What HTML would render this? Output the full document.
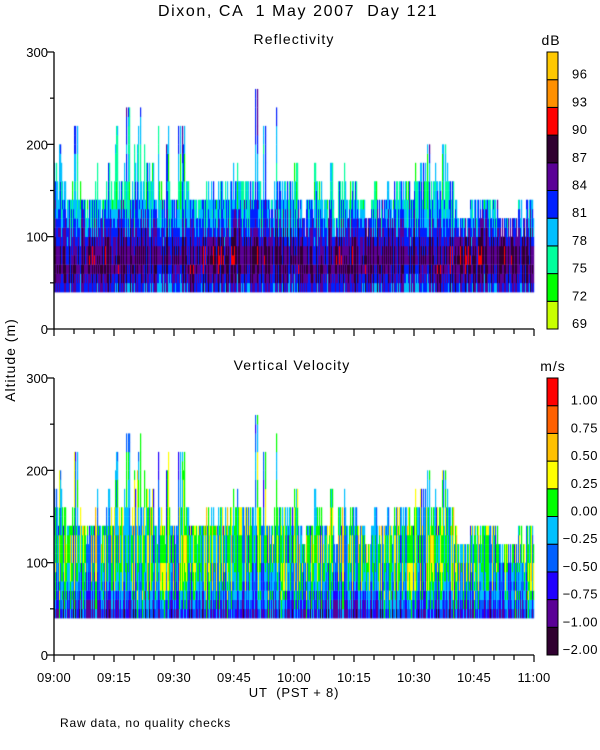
<!DOCTYPE html>
<html><head><meta charset="utf-8">
<style>
html,body{margin:0;padding:0;background:#fff;}
#wrap{position:relative;width:600px;height:750px;overflow:hidden;font-family:"Liberation Sans",sans-serif;}
canvas{position:absolute;left:0;top:0;}
svg{position:absolute;left:0;top:0;}
text{font-family:"Liberation Sans",sans-serif;fill:#000;white-space:pre;}
</style></head>
<body>
<div id="wrap">
<canvas id="cv" width="600" height="750"></canvas>
<svg id="sv" width="600" height="750"></svg>
</div>
<script>
// ---- data ----
const minutes = 120;
const tops = [200,200,160,140,160,220,160,140,140,140,180,140,160,180,160,220,160,180,240,160,
200,240,200,180,180,140,220,140,220,140,140,220,220,160,140,140,140,140,160,160,
140,160,160,160,180,180,180,160,160,160,260,160,220,140,140,240,160,160,160,160,
180,140,120,140,140,180,160,140,140,180,120,180,180,140,180,160,140,140,120,140,
160,140,140,160,140,160,160,160,160,160,180,180,180,200,160,180,160,200,180,160,
140,120,120,120,140,140,140,140,140,140,140,120,120,120,120,120,140,120,140,140];
const reflProfile = [4.2,4.8,5.3,5.5,5.3,4.8,4.2,3.7,3.3,3.0,2.8,2.7,2.7,2.7,2.8,2.9,3.1,3.3,3.5,3.7,3.9,4.0,4.0];
const velProfile = [2.2,2.9,3.5,4.0,4.3,4.5,4.6,4.6,4.6,4.6,4.5,4.5,4.4,4.4,4.3,4.2,4.2,4.1,4.0,4.0,3.9,3.8,3.8];
const jitter = "2031422401330214203412031402231043120243013421032140231420134203140214302412031420321403124023140213420314021342031402130421340213042312041320142302140312041320413024132041320142031402134023140213420314021340213402314021304213402130421340213042130";
const dbColors = ["#c8ff00","#00ff00","#00ff9c","#00bfff","#0020ff","#5a0096","#300030","#ff0000","#ff9000","#ffc800"];
const dbLabels = ["69","72","75","78","81","84","87","90","93","96"];
const velColors = ["#300030","#5a0096","#2000ff","#0060ff","#00c0ff","#00ff00","#ffff00","#ffc000","#ff6000","#ff0000"];
const velLabels = ["\u22122.00","\u22121.00","\u22120.75","\u22120.50","\u22120.25","0.00","0.25","0.50","0.75","1.00"];
const timeLabels = ["09:00","09:15","09:30","09:45","10:00","10:15","10:30","10:45","11:00"];
const altTicks = [0,100,200,300];

// ---- geometry ----
const X0=54, X1=534;
const panels=[{y0:329,y1:52,profile:reflProfile,colors:dbColors,labels:dbLabels,title:"Reflectivity",unit:"dB",name:"reflectivity"},
              {y0:655,y1:378,profile:velProfile,colors:velColors,labels:velLabels,title:"Vertical Velocity",unit:"m/s",name:"velocity"}];
function xScale(min){return X0+(X1-X0)*min/minutes;}
function yScale(p,alt){return p.y0-(p.y0-p.y1)*alt/300;}

const ctx=document.getElementById('cv').getContext('2d');
const J=jitter.length;
const SUB=4;
panels.forEach((p,pi)=>{
  const ncol=minutes*SUB;
  for(let c=0;c<ncol;c++){
    const m=Math.floor(c/SUB);
    let top=tops[m];
    const jc=+jitter[(c*3)%J];
    if(top>140){
      if(jc<=1) top=140+20*(jc);
      else if(jc===2) top=Math.max(140,top-20);
    } else if(jc===0) top=Math.max(100,top-20);
    const xa=xScale(c/SUB), xb=xScale((c+1)/SUB);
    const colBias=(+jitter[(c*7+pi*3)%J])-2;
    for(let a=40;a<top;a+=10){
      const b=(a-40)/10;
      const prof=p.profile[Math.min(b,p.profile.length-1)];
      const n=(+jitter[(c*5+Math.floor(b/3)*11+pi*13)%J])-2;
      let lv=Math.round(prof+colBias*(pi?0.8:0.5)+n*(pi?0.35:0.3));
      if(pi===0 && lv>=7 && !(n===2 && colBias>=1)) lv=6;
      lv=Math.max(0,Math.min(9,lv));
      ctx.fillStyle=p.colors[lv];
      const ya=yScale(p,a+10), yb=yScale(p,a);
      ctx.fillRect(xa,ya,xb-xa+0.2,yb-ya+0.3);
    }
  }
});

// ---- axes ----
const NS="http://www.w3.org/2000/svg";
const sv=document.getElementById('sv');
function el(tag,attrs,parent){const e=document.createElementNS(NS,tag);for(const k in attrs)e.setAttribute(k,attrs[k]);(parent||sv).appendChild(e);return e;}
function txt(s,attrs){const t=el('text',attrs);t.textContent=s;return t;}

let t=txt("Dixon, CA  1 May 2007  Day 121",{x:298,y:16,'font-size':16,'text-anchor':'middle','letter-spacing':1.6});



panels.forEach((p,pi)=>{
  let tt=txt(p.title,{x:pi?292:294,y:p.y1-8,'font-size':14,'text-anchor':'middle','letter-spacing':1.1});
  
  
  let ax=el('line',{x1:X0,x2:X0,y1:p.y1,y2:p.y0,stroke:'#000','stroke-width':1.3});
  
  
  for(let a=0;a<=300;a+=50){
    const y=yScale(p,a);
    let tk=el('line',{x1:X0-(a%100===0?7:4),x2:X0,y1:y,y2:y,stroke:'#000','stroke-width':1.2});
    
    
  }
  altTicks.forEach(a=>{
    let l=txt(String(a),{x:48,y:yScale(p,a)+5,'font-size':13,'text-anchor':'end'});
    
    
  });
  let xa=el('line',{x1:X0,x2:X1,y1:p.y0,y2:p.y0,stroke:'#000','stroke-width':1.3});
  
  
  for(let m=0;m<=minutes;m+=5){
    const x=xScale(m);
    let tk=el('line',{x1:x,x2:x,y1:p.y0,y2:p.y0+(m%15===0?7:5),stroke:'#000','stroke-width':1.2});
    
    
  }
  const cbx=547, cbw=11, h=(p.y0-p.y1)/10;
  for(let i=0;i<10;i++){
    const y=p.y0-(i+1)*h;
    let r=el('rect',{x:cbx,y:y,width:cbw,height:h,fill:p.colors[i],stroke:'#000','stroke-width':1});
    
    
    let l=txt(p.labels[i],{x:pi?598:572,y:y+h-1,'font-size':13,'text-anchor':pi?'end':'start','letter-spacing':0.5});
    
    
  }
  let u=txt(p.unit,{x:pi?553:551,y:p.y1-7,'font-size':14,'text-anchor':'middle','letter-spacing':1});
  
  
});
timeLabels.forEach((s,i)=>{
  let l=txt(s,{x:xScale(i*15),y:682,'font-size':13,'text-anchor':'middle','letter-spacing':0.3});
  
  
});
t=txt("UT  (PST + 8)",{x:294,y:697,'font-size':13,'text-anchor':'middle','letter-spacing':0.8});


t=txt("Altitude (m)",{x:0,y:0,'font-size':14,'text-anchor':'middle','letter-spacing':1,transform:'translate(15,360) rotate(-90)'});


t=txt("Raw data, no quality checks",{x:60,y:727,'font-size':12,'letter-spacing':0.8});


</script>
</body></html>
